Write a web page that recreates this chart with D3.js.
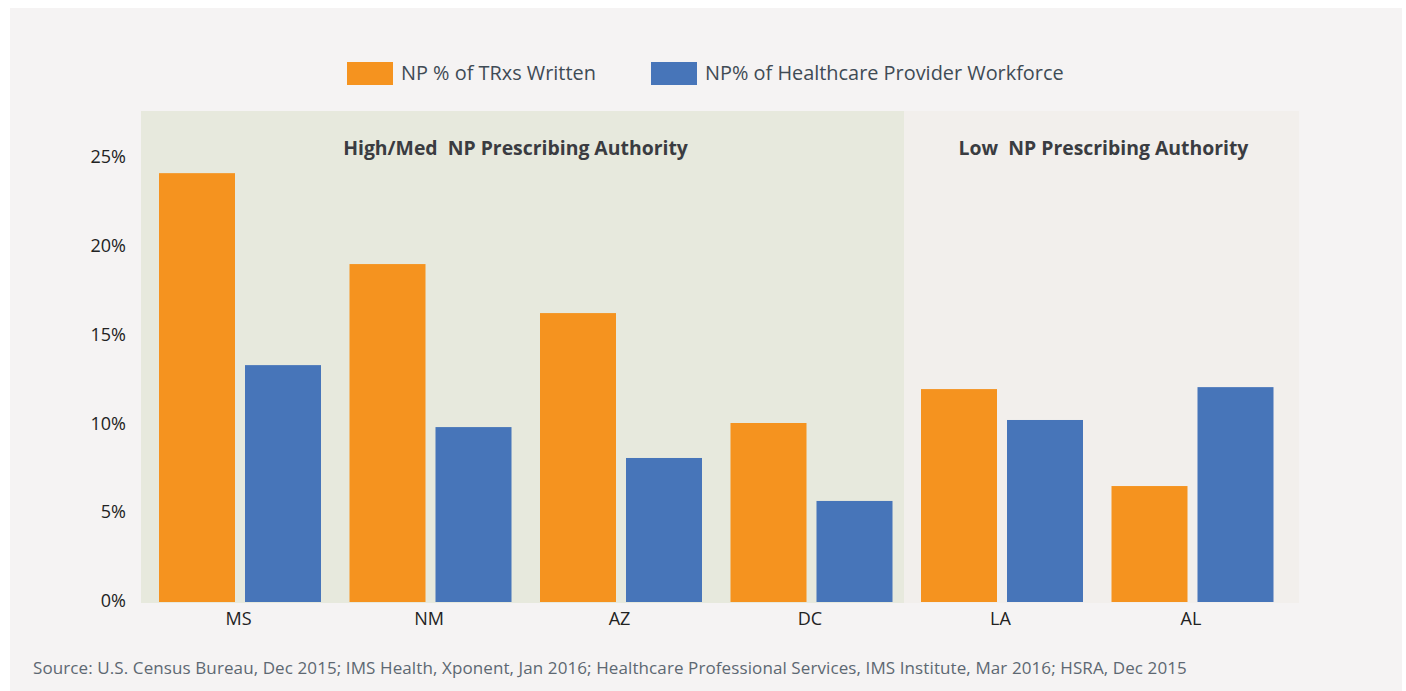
<!DOCTYPE html>
<html>
<head>
<meta charset="utf-8">
<script src="https://cdn.jsdelivr.net/npm/d3@7"></script>
<style>
  html, body { margin: 0; padding: 0; background: #ffffff; }
  svg { display: block; }
  text { font-family: "Open Sans", Lato, sans-serif; white-space: pre; }
</style>
</head>
<body>
<svg id="chart" width="1406" height="691"></svg>
<script>
// States, grouped by NP prescribing authority
const states = ["MS", "NM", "AZ", "DC", "LA", "AL"];
const seriesNames = ["NP % of TRxs Written", "NP% of Healthcare Provider Workforce"];
const trxWritten = [24.15, 19.03, 16.27, 10.08, 11.99, 6.53];
const workforce = [13.34, 9.85, 8.11, 5.69, 10.25, 12.1];
const yTicks = [0, 5, 10, 15, 20, 25];
const groups = [
  { label: "High/Med  NP Prescribing Authority", members: ["MS", "NM", "AZ", "DC"], fill: "#e7e9dd" },
  { label: "Low  NP Prescribing Authority", members: ["LA", "AL"], fill: "#f2efec" }
];
const sourceNote = "Source: U.S. Census Bureau, Dec 2015; IMS Health, Xponent, Jan 2016; Healthcare Professional Services, IMS Institute, Mar 2016; HSRA, Dec 2015";
const colors = ["#f5931f", "#4775b9"];

const svg = d3.select("#chart");

// card background
svg.append("rect")
  .attr("x", 10).attr("y", 8)
  .attr("width", 1392).attr("height", 691)
  .attr("fill", "#f5f3f3");

const plot = { left: 141, right: 1299, top: 111, bottom: 602 };

const x = d3.scaleBand()
  .domain(states)
  .range([144.75, 1287.75])
  .paddingInner(28.5 / 190.5)
  .paddingOuter(14.25 / 190.5);

const xs = d3.scaleBand()
  .domain(seriesNames)
  .range([0, x.bandwidth()])
  .paddingInner(10 / 86);

const y = d3.scaleLinear()
  .domain([0, 27.65])
  .range([plot.bottom, plot.top]);

// shaded panels; the divider sits just right of the last bar of the first group
const panelEdges = groups.map((g, i) => {
  const last = g.members[g.members.length - 1];
  const x0 = i === 0 ? plot.left : x(groups[i - 1].members.slice(-1)[0]) + x.bandwidth() + 11.5;
  const x1 = i === groups.length - 1 ? plot.right : x(last) + x.bandwidth() + 11.5;
  return { g, x0, x1 };
});

svg.append("g").selectAll("rect")
  .data(panelEdges)
  .join("rect")
  .attr("x", d => d.x0)
  .attr("y", plot.top)
  .attr("width", d => d.x1 - d.x0)
  .attr("height", plot.bottom - plot.top + 1)
  .attr("fill", d => d.g.fill);

// panel headings, nudged slightly off the panel centre
const headingShift = [-7, 2];
svg.append("g").selectAll("text")
  .data(panelEdges)
  .join("text")
  .attr("x", (d, i) => (d.x0 + d.x1) / 2 + headingShift[i])
  .attr("y", 155)
  .attr("text-anchor", "middle")
  .attr("font-size", 19.4)
  .attr("font-weight", 700)
  .attr("fill", "#3a3c41")
  .text(d => d.g.label);

// bars
const rows = states.map((s, i) => ({ state: s, values: [trxWritten[i], workforce[i]] }));
const barGroups = svg.append("g").selectAll("g")
  .data(rows)
  .join("g")
  .attr("transform", d => `translate(${x(d.state)},0)`);

barGroups.selectAll("rect")
  .data(d => d.values.map((v, k) => ({ name: seriesNames[k], v, k })))
  .join("rect")
  .attr("x", d => xs(d.name))
  .attr("width", xs.bandwidth())
  .attr("y", d => y(d.v))
  .attr("height", d => y(0) - y(d.v))
  .attr("fill", d => colors[d.k]);

// y axis
const yAxis = d3.axisLeft(y)
  .tickValues(yTicks)
  .tickFormat(d => d + "%")
  .tickSize(0)
  .tickPadding(0);
const yg = svg.append("g")
  .attr("transform", "translate(126,-1)")
  .call(yAxis);
yg.select(".domain").remove();
yg.selectAll("text")
  .attr("font-size", 18)
  .attr("fill", "#222222")
  .attr("dy", "0.32em")
  .style("font-family", "'Open Sans', sans-serif");

// x axis
const xAxis = d3.axisBottom(x).tickSize(0).tickPadding(0);
const xg = svg.append("g")
  .attr("transform", `translate(-1.5,${plot.bottom + 10})`)
  .call(xAxis);
xg.select(".domain").remove();
xg.selectAll("text")
  .attr("font-size", 18)
  .attr("fill", "#222222")
  .attr("dy", "0.71em")
  .style("font-family", "'Open Sans', sans-serif");

// legend
const legendItems = [
  { name: seriesNames[0], color: colors[0], x: 347 },
  { name: seriesNames[1], color: colors[1], x: 651 }
];
const lg = svg.append("g").selectAll("g")
  .data(legendItems)
  .join("g")
  .attr("transform", d => `translate(${d.x},62)`);
lg.append("rect")
  .attr("width", 46).attr("height", 23)
  .attr("fill", d => d.color);
lg.append("text")
  .attr("x", 54).attr("y", 11.5)
  .attr("dy", "0.35em")
  .attr("font-size", 19.9)
  .attr("fill", "#3f4b55")
  .text(d => d.name);

// source note
svg.append("text")
  .attr("x", 33).attr("y", 674)
  .attr("font-size", 17)
  .attr("letter-spacing", 0.1)
  .attr("fill", "#5d6872")
  .text(sourceNote);
</script>
</body>
</html>
